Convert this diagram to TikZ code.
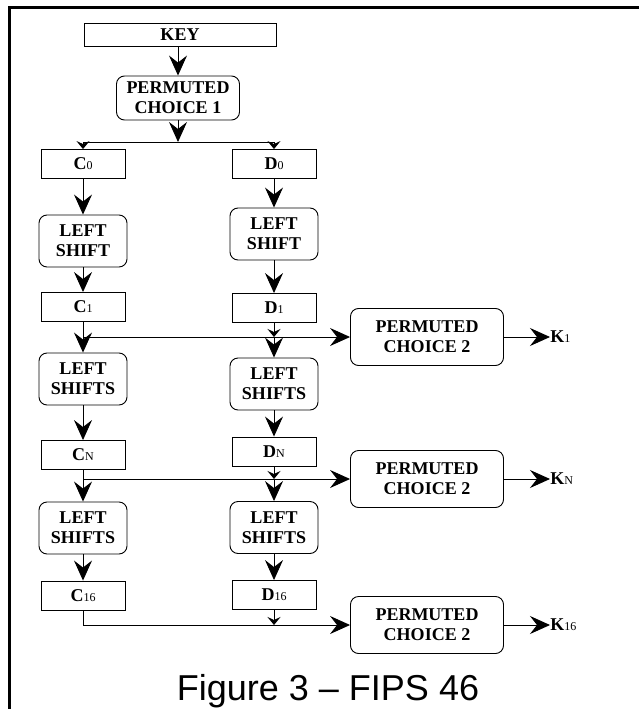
\documentclass[tikz,border=0pt]{standalone}
\usepackage{fontspec}
\setmainfont{Liberation Serif}
\newfontfamily\capfont{Liberation Sans}
\usetikzlibrary{arrows.meta, calc}
\tikzset{
  every picture/.style={line width=0.9pt},
  box/.style={draw, align=center, inner sep=0pt, font=\bfseries\fontsize{18}{20}\selectfont},
  rbox/.style={box, rounded corners=8pt},
  cell/.style={box, minimum width=84, minimum height=29},
  shiftbox/.style={rbox, minimum width=88, minimum height=52},
  pctwo/.style={rbox, minimum width=153, minimum height=57},
  arrow/.style={-{Stealth[length=20pt, width=18pt, inset=7pt]}},
  tick/.style={-{Stealth[length=8pt, width=13pt, inset=3pt]}},
  title/.style={font=\capfont\fontsize{36}{36}\selectfont},
}
\newcommand{\boxlabel}[2]{{\bfseries\fontsize{18}{20}\selectfont #1}{\mdseries\fontsize{12}{12}\selectfont #2}}

\begin{document}
\begin{tikzpicture}[x=1pt, y=-1pt]
  \useasboundingbox (0,0) rectangle (639,709);
  % frame
  \draw[line width=3pt] (9.5,709) -- (9.5,7.5) -- (639,7.5);
  \node[box, minimum width=192, minimum height=23] (key) at (180,34.5) {KEY};
  \node[rbox, minimum width=123, minimum height=44] (pc1) at (178,98) {PERMUTED\\CHOICE 1};
  % C and D columns
  \node[cell] (c0) at (83,164) {\boxlabel{C}{0}};
  \node[cell] (d0) at (274,164) {\boxlabel{D}{0}};
  \node[shiftbox] (lsc1) at (83,241) {LEFT\\SHIFT};
  \node[shiftbox] (lsd1) at (274,234) {LEFT\\SHIFT};
  \node[cell] (c1) at (83,307) {\boxlabel{C}{1}};
  \node[cell] (d1) at (274,308) {\boxlabel{D}{1}};
  \node[shiftbox] (lsc2) at (83,379) {LEFT\\SHIFTS};
  \node[shiftbox] (lsd2) at (274,384) {LEFT\\SHIFTS};
  \node[cell] (cn) at (83,455) {\boxlabel{C}{N}};
  \node[cell] (dn) at (274,451.5) {\boxlabel{D}{N}};
  \node[shiftbox] (lsc3) at (83,528) {LEFT\\SHIFTS};
  \node[shiftbox] (lsd3) at (274,527.5) {LEFT\\SHIFTS};
  \node[cell] (c16) at (83,595.5) {\boxlabel{C}{16}};
  \node[cell] (d16) at (274,595) {\boxlabel{D}{16}};
  % permuted choice 2 and subkeys
  \foreach \n/\y/\k in {a/337/1, b/479/N, c/625/16} {
    \node[pctwo] (pc\n) at (427,\y) {PERMUTED\\CHOICE 2};
    \node[anchor=west, inner sep=0pt] (k\n) at (550,\y) {\boxlabel{K}{\k}};
    \draw[arrow] (pc\n) -- (k\n);
  }
  % connectors
  \coordinate (split) at (pc1.south |- 0,142);
  \draw[arrow] (key.south -| pc1.north) -- (pc1.north);
  \draw[arrow] (pc1) -- (split);
  \draw[tick] (split) -| (c0);
  \draw[tick] (split) -| (d0);
  \draw[arrow] (c0) -- (lsc1);  \draw[arrow] (d0) -- (lsd1);
  \draw[arrow] (lsc1) -- (c1);  \draw[arrow] (lsd1) -- (d1);
  \coordinate (cj1) at (c1 |- pca);  \coordinate (dj1) at (d1 |- pca);
  \draw (c1) -- (cj1);
  \draw[arrow] (cj1) -- (lsc2);  \draw[arrow] (cj1) -- (pca);
  \draw[tick] (d1) -- (dj1);     \draw[arrow] (dj1) -- (lsd2);
  \draw[arrow] (lsc2) -- (cn);  \draw[arrow] (lsd2) -- (dn);
  \coordinate (cj2) at (cn |- pcb);  \coordinate (dj2) at (dn |- pcb);
  \draw (cn) -- (cj2);
  \draw[arrow] (cj2) -- (lsc3);  \draw[arrow] (cj2) -- (pcb);
  \draw[tick] (dn) -- (dj2);     \draw[arrow] (dj2) -- (lsd3);
  \draw[arrow] (lsc3) -- (c16);  \draw[arrow] (lsd3) -- (d16);
  \coordinate (dj3) at (d16 |- pcc);
  \draw[arrow] (c16) |- (pcc);
  \draw[tick] (d16) -- (dj3);
  \node[title, anchor=base] (caption) at (328,700) {Figure 3 – FIPS 46};
\end{tikzpicture}
\end{document}
